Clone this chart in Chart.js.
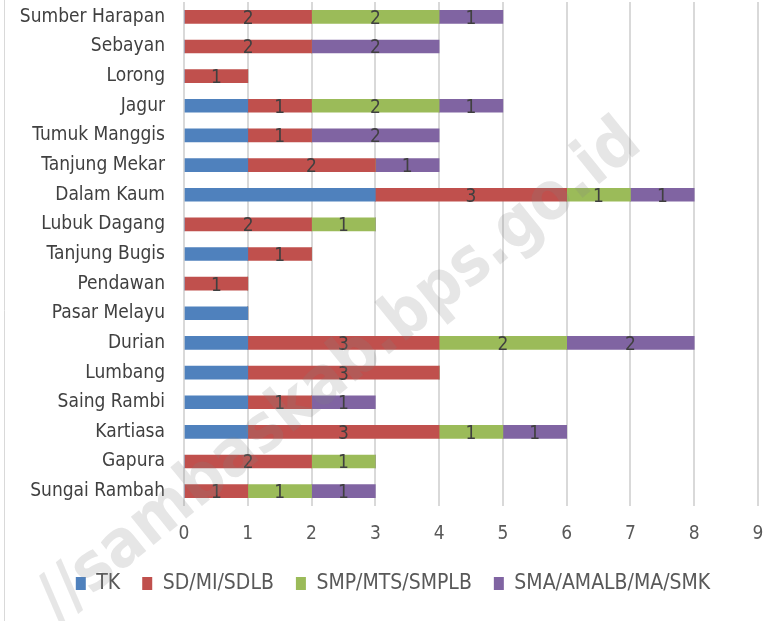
<!DOCTYPE html>
<html>
<head>
<meta charset="utf-8">
<script src="https://cdn.jsdelivr.net/npm/chart.js@4/dist/chart.umd.min.js"></script>
<style>
html,body{margin:0;padding:0;background:#fff;}
#wrap{width:783px;height:621px;}
</style>
</head>
<body>
<div id="wrap"><canvas id="c" width="783" height="621"></canvas></div>
<script>
const categories = ["Sumber Harapan","Sebayan","Lorong","Jagur","Tumuk Manggis","Tanjung Mekar","Dalam Kaum","Lubuk Dagang","Tanjung Bugis","Pendawan","Pasar Melayu","Durian","Lumbang","Saing Rambi","Kartiasa","Gapura","Sungai Rambah"];
const seriesNames = ["TK","SD/MI/SDLB","SMP/MTS/SMPLB","SMA/AMALB/MA/SMK"];
const tk  = [0,0,0,1,1,1,3,0,1,0,1,1,1,1,1,0,0];
const sd  = [2,2,1,1,1,2,3,2,1,1,0,3,3,1,3,2,1];
const smp = [2,0,0,2,0,0,1,1,0,0,0,2,0,0,1,1,1];
const sma = [1,2,0,1,2,1,1,0,0,0,0,2,0,1,1,0,1];
const xTickLabels = ["0","1","2","3","4","5","6","7","8","9"];
const watermark = "//sambaskab.bps.go.id";

const colors = ["#4F81BD","#C0504D","#9BBB59","#8064A2"];
const FONT = '"Liberation Sans Narrow","DejaVu Sans Condensed","Roboto Condensed",Lato,sans-serif';

const labelPlugin = {
  id: 'segLabels',
  afterLayout(chart) {
    const lg = chart.legend;
    if (lg) { lg.left += 14; lg.right += 14; }
  },
  afterDatasetsDraw(chart) {
    const ctx = chart.ctx;
    ctx.save();
    ctx.font = '19px ' + FONT;
    ctx.fillStyle = '#404040';
    ctx.textAlign = 'center';
    ctx.textBaseline = 'middle';
    chart.data.datasets.forEach((ds, di) => {
      if (di === 0) return;
      const meta = chart.getDatasetMeta(di);
      meta.data.forEach((bar, i) => {
        const v = ds.data[i];
        if (!v) return;
        ctx.fillText(String(v), (bar.x + bar.base) / 2, bar.y + 2);
      });
    });
    ctx.restore();
  },
  afterDraw(chart) {
    const ctx = chart.ctx;
    ctx.save();
    ctx.strokeStyle = '#d9d9d9';
    ctx.lineWidth = 1;
    ctx.beginPath();
    ctx.moveTo(4.5, 0);
    ctx.lineTo(4.5, 621);
    ctx.stroke();
    ctx.translate(340, 372);
    ctx.rotate(-39 * Math.PI / 180);
    ctx.font = 'bold 66px ' + FONT;
    ctx.fillStyle = 'rgba(128,128,128,0.2)';
    ctx.textAlign = 'center';
    ctx.textBaseline = 'middle';
    ctx.fillText(watermark, 0, 0);
    ctx.restore();
  }
};

const seriesData = [tk, sd, smp, sma];
new Chart(document.getElementById('c'), {
  type: 'bar',
  data: {
    labels: categories,
    datasets: seriesNames.map((n, i) => ({
      label: n,
      data: seriesData[i],
      backgroundColor: colors[i],
      borderWidth: 0,
      barThickness: 13
    }))
  },
  options: {
    indexAxis: 'y',
    responsive: false,
    animation: false,
    layout: { padding: { top: 2, right: 25, left: 0, bottom: 17 } },
    scales: {
      x: {
        stacked: true,
        min: 0, max: 9,
        grid: { color: '#d9d9d9', lineWidth: 2, drawTicks: false },
        border: { display: false },
        ticks: {
          stepSize: 1,
          padding: 17,
          color: '#595959',
          font: { size: 19, family: FONT },
          callback: (v, i) => xTickLabels[i]
        },
        afterFit: s => { s.height = 45; }
      },
      y: {
        stacked: true,
        grid: { display: false, drawTicks: true, tickLength: 19 },
        border: { display: false },
        ticks: {
          padding: 0,
          color: '#404040',
          font: { size: 19, family: FONT, lineHeight: 0.2 },
          autoSkip: false
        },
        afterFit: s => { s.width = 184; }
      }
    },
    plugins: {
      legend: {
        position: 'bottom',
        labels: {
          boxWidth: 10,
          boxHeight: 13,
          padding: 22,
          color: '#595959',
          font: { size: 21, family: FONT }
        }
      },
      tooltip: { enabled: false }
    }
  },
  plugins: [labelPlugin]
});
</script>
</body>
</html>
